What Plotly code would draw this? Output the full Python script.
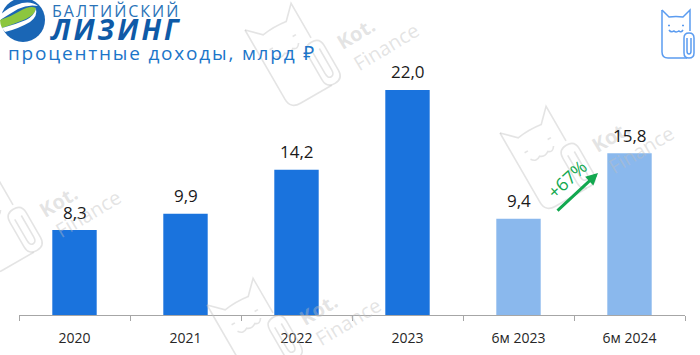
import math
import re
import plotly.graph_objects as go

categories = ["2020", "2021", "2022", "2023", "6м 2023", "6м 2024"]
values = [8.3, 9.9, 14.2, 22.0, 9.4, 15.8]
value_labels = ["8,3", "9,9", "14,2", "22,0", "9,4", "15,8"]
bar_colors = ["#1a73dd"] * 4 + ["#8ab8ed"] * 2

W, H = 700, 355
FONT = "Open Sans, Noto Sans, sans-serif"


def px(x):
    return x / W


def py(y):
    return 1 - y / H


CAT_PATHS = [
    "M7 5 L7 47 Q7 53 13 53 L32 53",
    "M7 5 L14 12 Q21 11 28 12 L35 5 L35 26",
    "M29 33 Q29 28 34 28 Q39 28 39 33 L39 48 Q39 53 34 53 Q29 53 29 48 Z",
    "M32 33 L32 46 Q32 49 34 49 Q36 49 36 46 L36 33",
    "M14 25 Q16 28 19 26 Q21 28 24 26 Q26 28 28 25",
    "M13 20.5 L15 20.5",
    "M27 20.5 L29 20.5",
]


def tokens(path):
    return re.findall(r"[A-Za-z]|-?\d+\.?\d*", path)


def place(path, ox, oy, s, deg):
    """Move a local icon path to image pixels, then to paper coordinates."""
    a = math.radians(deg)
    c, si = math.cos(a), math.sin(a)
    out, nums = [], []
    for tok in tokens(path):
        if tok.isalpha():
            out.append(tok)
            nums = []
            continue
        nums.append(float(tok))
        if len(nums) == 2:
            x, y = nums[0] - 7, nums[1] - 5
            X = ox + s * (x * c - y * si)
            Y = oy + s * (x * si + y * c)
            out.append(f"{px(X):.5f},{py(Y):.5f}")
            nums = []
    return " ".join(out)


def cat(ox, oy, s, deg, color, width):
    return [
        dict(type="path", xref="paper", yref="paper", path=place(p, ox, oy, s, deg),
             line=dict(color=color, width=width), layer="above")
        for p in CAT_PATHS
    ]


shapes = []
annotations = []
WM = "rgba(190,190,190,0.42)"
for ex, ey in [(245, 30), (500, 133), (207, 305), (-53, 197)]:
    shapes += cat(ex, ey, 1.9, -30, WM, 1.6)
    annotations.append(dict(text="<b>Kot.</b>", x=px(ex + 111), y=py(ey + 4), textangle=-31,
                            font=dict(size=20, color=WM, family=FONT)))
    annotations.append(dict(text="Finance", x=px(ex + 141), y=py(ey + 16), textangle=-31,
                            font=dict(size=20, color=WM, family=FONT)))

shapes += cat(662, 10, 1, 0, "#5b9cf0", 1.5)


def pth(d):
    out = []
    nums = []
    for tok in tokens(d):
        if tok.isalpha():
            out.append(tok)
            continue
        nums.append(float(tok))
        if len(nums) == 2:
            out.append(f"{px(nums[0]):.5f},{py(nums[1]):.5f}")
            nums = []
    return " ".join(out)


# logo globe
shapes.append(dict(type="circle", xref="paper", yref="paper", x0=px(1), x1=px(45), y0=py(-2), y1=py(42),
                   fillcolor="#1a66b5", line=dict(width=0), layer="above"))
shapes.append(dict(type="path", xref="paper", yref="paper",
                   path=pth("M0 15 Q10 6 22 3 Q32 1 38 6 Q28 4 18 9 Q8 15 0 20 Z"),
                   fillcolor="#ffffff", line=dict(width=0), layer="above"))
shapes.append(dict(type="path", xref="paper", yref="paper",
                   path=pth("M0 20 Q10 17 20 11 Q30 5 36 8 Q36 14 26 19 Q14 24 2 28 Q0 24 0 20 Z"),
                   fillcolor="#8cc63f", line=dict(width=0), layer="above"))
shapes.append(dict(type="path", xref="paper", yref="paper",
                   path=pth("M2 28 Q14 25 26 20 Q34 16 36 9 Q38 16 30 22 Q18 29 5 32 Z"),
                   fillcolor="#ffffff", line=dict(width=0), layer="above"))

annotations += [
    dict(text='<span style="letter-spacing:2px">БАЛТИЙСКИЙ</span>', x=px(116), y=py(11),
         font=dict(size=16, color="#2a73b8", family=FONT)),
    dict(text='<span style="letter-spacing:3px"><b><i>ЛИЗИНГ</i></b></span>', x=px(116), y=py(29),
         font=dict(size=28, color="#0e5aa7", family=FONT)),
    dict(text='<span style="letter-spacing:1.8px">процентные доходы, млрд ₽</span>',
         x=px(162), y=py(53), font=dict(size=19, color="#1b75c9", family=FONT)),
    dict(text="+67%", x=px(567), y=py(179), textangle=-43, font=dict(size=18, color="#12a84f", family=FONT)),
]
annotations = [dict(a, xref="paper", yref="paper", xanchor="center", yanchor="middle", showarrow=False)
               for a in annotations]
annotations.append(dict(xref="paper", yref="paper", axref="pixel", ayref="pixel",
                        x=px(598), y=py(173), ax=-42, ay=39, text="", showarrow=True,
                        arrowhead=2, arrowsize=0.8, arrowwidth=3, arrowcolor="#12a84f"))
for i, (v, t) in enumerate(zip(values, value_labels)):
    annotations.append(dict(xref="x", yref="y", x=i, y=v, text=t, showarrow=False, yshift=18,
                            xanchor="center", yanchor="middle",
                            font=dict(size=17, color="#1a1a1a", family=FONT)))

fig = go.Figure(go.Bar(
    x=categories, y=values, cliponaxis=False,
    marker=dict(color=bar_colors, line=dict(width=0)), hoverinfo="skip",
))
fig.update_layout(
    width=W, height=H, autosize=False, margin=dict(l=0, r=0, t=0, b=0),
    paper_bgcolor="#ffffff", plot_bgcolor="#ffffff", showlegend=False, bargap=0.6,
    shapes=shapes, annotations=annotations,
    xaxis=dict(domain=[19 / W, 685 / W], type="category", categoryorder="array", categoryarray=categories,
               range=[-0.5, len(categories) - 0.5], tickson="boundaries", ticks="outside",
               ticklen=5, tickcolor="#a6a6a6", tickwidth=1, showline=True, linecolor="#a6a6a6", linewidth=1,
               showgrid=False, ticklabelstandoff=10, tickfont=dict(size=14, color="#262626", family=FONT)),
    yaxis=dict(domain=[40 / H, 1], range=[0, 315 / 10.23], visible=False, showgrid=False, zeroline=False),
)
fig.write_html("out.html", config=dict(displayModeBar=False),
               post_script="document.body.style.margin='0';")
